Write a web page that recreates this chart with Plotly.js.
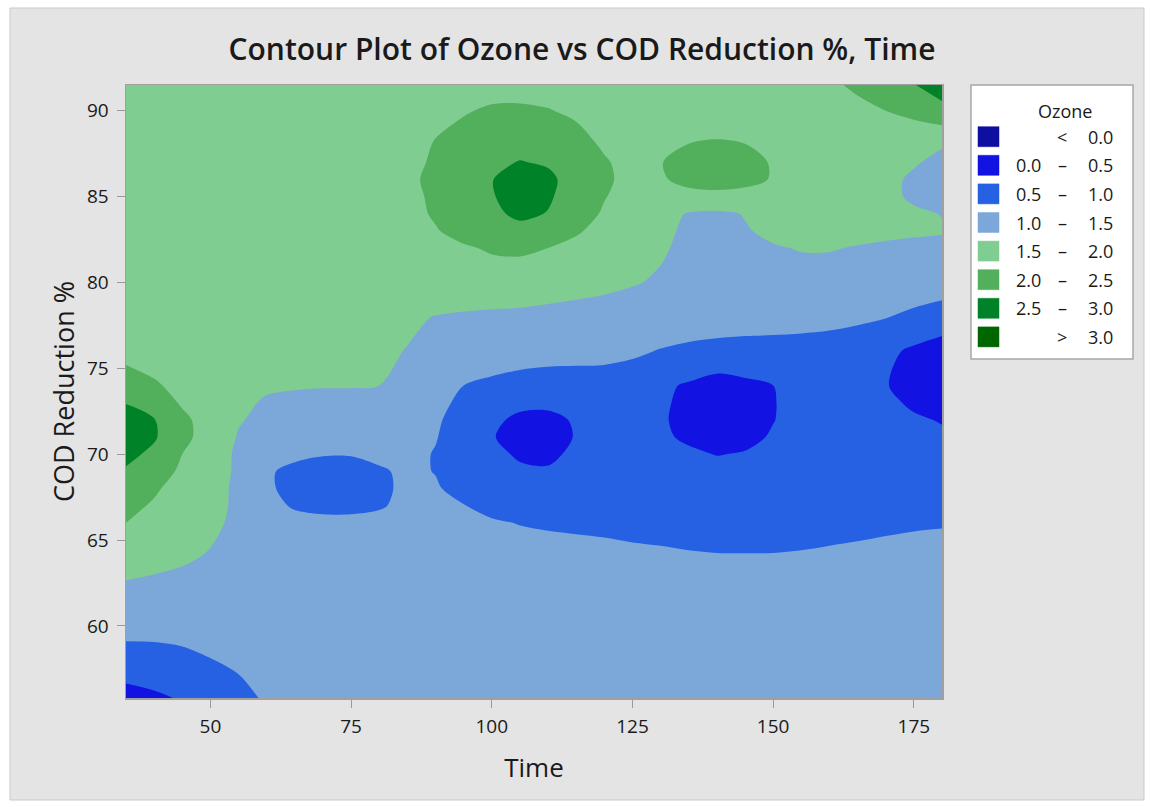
<!DOCTYPE html>
<html>
<head>
<meta charset="utf-8">
<script src="https://cdn.plot.ly/plotly-3.0.1.min.js"></script>
<style>
  html, body { margin: 0; padding: 0; background: #ffffff; }
  #chart { width: 1150px; height: 807px; }
</style>
</head>
<body>
<div id="chart"></div>
<script>
// ---------------- DATA ----------------
const timeValues = [35,40,45,50,55,60,65,70,75,80,85,90,95,100,105,110,115,120,125,130,135,140,145,150,155,160,165,170,175,180];
const codValues = [55.8,58,60,62,64,66,67,68,69,70,71,72,73,74,76,78,80,82,83,84,85,86,87,88,90,91.5];

// Ozone estimated on the grid, one array per COD Reduction % row (bottom to top)
const ozoneCOD55_8 = [0.25,0.4,0.55,0.72,0.88,1.05,1.15,1.2,1.23,1.25,1.26,1.27,1.27,1.27,1.27,1.27,1.27,1.27,1.27,1.27,1.27,1.27,1.27,1.27,1.27,1.27,1.27,1.27,1.27,1.27];
const ozoneCOD58 = [0.9,0.91,0.94,0.99,1.07,1.15,1.2,1.23,1.25,1.26,1.27,1.27,1.27,1.27,1.26,1.26,1.26,1.26,1.25,1.25,1.25,1.25,1.25,1.25,1.25,1.25,1.26,1.26,1.26,1.27];
const ozoneCOD60 = [1.08,1.08,1.09,1.13,1.18,1.22,1.24,1.25,1.25,1.25,1.25,1.24,1.24,1.23,1.23,1.22,1.22,1.21,1.21,1.2,1.2,1.2,1.2,1.2,1.2,1.21,1.21,1.22,1.22,1.23];
const ozoneCOD62 = [1.43,1.4,1.36,1.32,1.28,1.26,1.25,1.25,1.25,1.24,1.24,1.23,1.22,1.21,1.2,1.19,1.18,1.17,1.16,1.15,1.14,1.13,1.13,1.13,1.14,1.15,1.16,1.17,1.18,1.19];
const ozoneCOD64 = [1.65,1.6,1.55,1.47,1.38,1.3,1.25,1.23,1.22,1.2,1.2,1.18,1.16,1.14,1.12,1.1,1.09,1.08,1.06,1.05,1.03,1.02,1.02,1.02,1.03,1.05,1.06,1.08,1.09,1.1];
const ozoneCOD66 = [2.0,1.88,1.72,1.58,1.42,1.25,1.15,1.1,1.1,1.12,1.14,1.12,1.07,1.03,0.99,0.97,0.955,0.94,0.92,0.9,0.88,0.86,0.85,0.86,0.88,0.9,0.93,0.95,0.97,0.98];
const ozoneCOD67 = [2.1,1.96,1.8,1.62,1.43,1.15,0.95,0.9,0.9,0.96,1.1,1.08,1.01,0.92,0.85,0.83,0.83,0.84,0.83,0.82,0.8,0.79,0.79,0.8,0.81,0.83,0.85,0.86,0.87,0.88];
const ozoneCOD68 = [2.2,2.05,1.85,1.65,1.42,1.05,0.9,0.82,0.82,0.92,1.08,1.03,0.9,0.8,0.72,0.7,0.72,0.75,0.76,0.75,0.74,0.74,0.74,0.75,0.76,0.77,0.78,0.78,0.78,0.78];
const ozoneCOD69 = [2.45,2.2,1.93,1.7,1.43,1.04,0.92,0.86,0.86,0.96,1.06,0.99,0.83,0.68,0.56,0.54,0.64,0.72,0.73,0.68,0.63,0.6,0.62,0.66,0.7,0.73,0.74,0.73,0.71,0.7];
const ozoneCOD70 = [2.62,2.4,2.0,1.75,1.42,1.2,1.07,1.02,1.02,1.08,1.1,0.98,0.8,0.6,0.45,0.42,0.58,0.7,0.7,0.62,0.55,0.49,0.52,0.58,0.66,0.7,0.7,0.68,0.64,0.62];
const ozoneCOD71 = [2.78,2.55,2.12,1.8,1.47,1.3,1.18,1.13,1.13,1.15,1.12,1.02,0.8,0.52,0.38,0.36,0.52,0.68,0.66,0.55,0.45,0.4,0.42,0.53,0.64,0.69,0.68,0.64,0.59,0.55];
const ozoneCOD72 = [2.72,2.52,2.1,1.8,1.53,1.4,1.32,1.28,1.27,1.25,1.18,1.05,0.85,0.6,0.4,0.38,0.55,0.68,0.62,0.54,0.4,0.32,0.35,0.49,0.62,0.68,0.65,0.6,0.54,0.48];
const ozoneCOD73 = [2.48,2.25,1.95,1.78,1.58,1.46,1.42,1.4,1.39,1.38,1.28,1.1,0.92,0.75,0.62,0.6,0.7,0.76,0.72,0.55,0.42,0.3,0.36,0.48,0.65,0.7,0.65,0.57,0.45,0.36];
const ozoneCOD74 = [2.3,2.05,1.88,1.75,1.62,1.55,1.53,1.52,1.52,1.5,1.35,1.15,1.0,0.92,0.85,0.82,0.84,0.85,0.8,0.58,0.45,0.3,0.4,0.5,0.68,0.7,0.62,0.52,0.35,0.25];
const ozoneCOD76 = [1.8,1.8,1.75,1.68,1.65,1.63,1.6,1.58,1.56,1.55,1.49,1.4,1.3,1.22,1.18,1.15,1.12,1.1,1.06,0.98,0.92,0.88,0.86,0.85,0.84,0.82,0.75,0.6,0.42,0.3];
const ozoneCOD78 = [1.75,1.72,1.7,1.67,1.65,1.63,1.62,1.62,1.6,1.58,1.55,1.49,1.45,1.42,1.4,1.38,1.35,1.32,1.28,1.25,1.22,1.2,1.18,1.17,1.15,1.12,1.08,1.02,0.9,0.75];
const ozoneCOD80 = [1.75,1.72,1.7,1.67,1.65,1.65,1.65,1.65,1.65,1.68,1.72,1.75,1.78,1.78,1.78,1.7,1.65,1.6,1.53,1.45,1.35,1.3,1.3,1.32,1.35,1.35,1.32,1.3,1.28,1.27];
const ozoneCOD82 = [1.75,1.72,1.7,1.68,1.68,1.68,1.68,1.68,1.7,1.75,1.82,1.9,1.95,2.05,2.07,2.0,1.88,1.75,1.65,1.55,1.4,1.35,1.4,1.47,1.52,1.52,1.48,1.45,1.42,1.4];
const ozoneCOD83 = [1.75,1.75,1.72,1.7,1.7,1.7,1.7,1.7,1.72,1.78,1.85,1.97,2.15,2.3,2.35,2.25,2.05,1.85,1.72,1.6,1.42,1.38,1.47,1.58,1.62,1.62,1.6,1.57,1.55,1.53];
const ozoneCOD84 = [1.75,1.75,1.75,1.72,1.72,1.72,1.72,1.72,1.75,1.8,1.86,2.05,2.3,2.4,2.6,2.48,2.2,1.95,1.8,1.65,1.47,1.42,1.52,1.65,1.7,1.7,1.65,1.6,1.55,1.49];
const ozoneCOD85 = [1.75,1.75,1.75,1.74,1.74,1.74,1.74,1.74,1.77,1.81,1.88,2.08,2.33,2.46,2.75,2.56,2.27,2.02,1.83,1.82,1.86,1.9,1.86,1.82,1.76,1.72,1.65,1.58,1.45,1.38];
const ozoneCOD86 = [1.75,1.75,1.75,1.75,1.75,1.75,1.75,1.75,1.78,1.82,1.9,2.12,2.35,2.48,2.8,2.6,2.3,2.08,1.85,1.95,2.13,2.16,2.12,1.97,1.8,1.72,1.65,1.58,1.45,1.35];
const ozoneCOD87 = [1.75,1.75,1.75,1.75,1.75,1.75,1.75,1.75,1.78,1.82,1.88,2.06,2.25,2.4,2.52,2.45,2.22,2.04,1.86,1.99,2.1,2.12,2.08,1.98,1.82,1.75,1.68,1.62,1.53,1.42];
const ozoneCOD88 = [1.75,1.75,1.75,1.75,1.75,1.75,1.75,1.75,1.78,1.82,1.88,2.02,2.15,2.3,2.35,2.3,2.15,1.95,1.85,1.9,2.01,2.04,2.01,1.88,1.82,1.78,1.72,1.65,1.57,1.52];
const ozoneCOD90 = [1.75,1.75,1.75,1.75,1.75,1.75,1.75,1.75,1.78,1.82,1.86,1.92,1.97,2.05,2.06,2.02,1.93,1.86,1.82,1.8,1.8,1.8,1.8,1.8,1.82,1.85,1.9,2.0,2.15,2.35];
const ozoneCOD91_5 = [1.75,1.75,1.75,1.75,1.75,1.75,1.75,1.75,1.75,1.78,1.8,1.82,1.84,1.85,1.85,1.83,1.8,1.78,1.77,1.77,1.77,1.78,1.8,1.83,1.87,1.93,2.07,2.25,2.48,2.75];

const xTickValues = [50,75,100,125,150,175];
const yTickValues = [60,65,70,75,80,85,90];

const contourStart = 0.0, contourEnd = 3.0, contourStep = 0.5;

const legendLow  = ['', '0.0', '0.5', '1.0', '1.5', '2.0', '2.5', ''];
const legendSym  = ['<', '\u2013', '\u2013', '\u2013', '\u2013', '\u2013', '\u2013', '>'];
const legendHigh = ['0.0', '0.5', '1.0', '1.5', '2.0', '2.5', '3.0', '3.0'];

// ---------------- STYLE ----------------
const bandColors = ['#0E0EA0', '#1212E2', '#2561E2', '#7CA7D9', '#80CD91', '#52B05C', '#008228', '#006600'];
const FONT = 'Open Sans, Noto Sans, DejaVu Sans, sans-serif';
const TXT = '#1a1a1a';

const z = [ozoneCOD55_8, ozoneCOD58, ozoneCOD60, ozoneCOD62, ozoneCOD64, ozoneCOD66, ozoneCOD67, ozoneCOD68,
           ozoneCOD69, ozoneCOD70, ozoneCOD71, ozoneCOD72, ozoneCOD73, ozoneCOD74, ozoneCOD76, ozoneCOD78,
           ozoneCOD80, ozoneCOD82, ozoneCOD83, ozoneCOD84, ozoneCOD85, ozoneCOD86, ozoneCOD87, ozoneCOD88,
           ozoneCOD90, ozoneCOD91_5];

const colorscale = bandColors.map((c, i) => [i / (bandColors.length - 1), c]);

const trace = {
  type: 'contour',
  x: timeValues,
  y: codValues,
  z: z,
  autocontour: false,
  contours: { start: contourStart, end: contourEnd, size: contourStep, coloring: 'fill', showlines: false },
  line: { width: 0, smoothing: 0.9 },
  colorscale: colorscale,
  showscale: false,
  hoverinfo: 'skip'
};

// plot area geometry (pixels)
const W = 1150, H = 807;
const mL = 126, mR = 208, mT = 85, mB = 109;
const pw = W - mL - mR, ph = H - mT - mB;
const PX = px => (px - mL) / pw;
const PY = py => (H - mB - py) / ph;

const shapes = [];
const annotations = [];

// grey frame background
shapes.push({ type: 'rect', xref: 'paper', yref: 'paper', layer: 'below',
  x0: PX(10), x1: PX(1144), y0: PY(800), y1: PY(8),
  fillcolor: '#e4e4e4', line: { color: '#c9c9c9', width: 1 } });

// legend box
shapes.push({ type: 'rect', xref: 'paper', yref: 'paper', layer: 'above',
  x0: PX(971), x1: PX(1133), y0: PY(359), y1: PY(85),
  fillcolor: '#ffffff', line: { color: '#a6a6a6', width: 1.5 } });

annotations.push({ xref: 'paper', yref: 'paper', x: PX(1065), y: PY(111), xanchor: 'center', yanchor: 'middle',
  text: 'Ozone', showarrow: false, font: { family: FONT, size: 18, color: TXT } });

const rowTop = 136.7, rowStep = 28.6;
for (let i = 0; i < bandColors.length; i++) {
  const cy = rowTop + i * rowStep;
  shapes.push({ type: 'rect', xref: 'paper', yref: 'paper', layer: 'above',
    x0: PX(978), x1: PX(999), y0: PY(cy + 10), y1: PY(cy - 10),
    fillcolor: bandColors[i], line: { color: bandColors[i], width: 0.5 } });
  if (legendLow[i]) {
    annotations.push({ xref: 'paper', yref: 'paper', x: PX(1043), y: PY(cy), xanchor: 'right', yanchor: 'middle',
      text: legendLow[i], showarrow: false, font: { family: FONT, size: 18, color: TXT } });
  }
  annotations.push({ xref: 'paper', yref: 'paper', x: PX(1062), y: PY(cy), xanchor: 'center', yanchor: 'middle',
    text: legendSym[i], showarrow: false, font: { family: FONT, size: 18, color: TXT } });
  annotations.push({ xref: 'paper', yref: 'paper', x: PX(1115), y: PY(cy), xanchor: 'right', yanchor: 'middle',
    text: legendHigh[i], showarrow: false, font: { family: FONT, size: 18, color: TXT } });
}

const layout = {
  width: W, height: H,
  margin: { l: mL, r: mR, t: mT, b: mB, pad: 0 },
  paper_bgcolor: '#ffffff',
  plot_bgcolor: '#ffffff',
  font: { family: FONT, color: TXT },
  title: { text: 'Contour Plot of Ozone vs COD Reduction %, Time',
    font: { family: FONT, size: 30, weight: 600, color: TXT },
    xref: 'container', yref: 'container', x: 582 / W, y: 1 - 49 / H, xanchor: 'center', yanchor: 'middle' },
  xaxis: {
    range: [35, 180], tickvals: xTickValues, ticks: 'outside', ticklen: 8, tickwidth: 1, tickcolor: '#9a9a9a',
    showline: true, mirror: true, linecolor: '#a0a0a0', linewidth: 1.5, showgrid: false, zeroline: false,
    tickfont: { family: FONT, size: 19, color: TXT }, automargin: false, ticklabelstandoff: 3,
    title: { text: 'Time', font: { family: FONT, size: 26, color: TXT }, standoff: 20 }
  },
  yaxis: {
    range: [55.8, 91.5], tickvals: yTickValues, ticks: 'outside', ticklen: 8, tickwidth: 1, tickcolor: '#9a9a9a',
    showline: true, mirror: true, linecolor: '#a0a0a0', linewidth: 1.5, showgrid: false, zeroline: false,
    tickfont: { family: FONT, size: 19, color: TXT }, automargin: false, ticklabelstandoff: 4,
    title: { text: 'COD Reduction %', font: { family: FONT, size: 27, color: TXT }, standoff: 4 }
  },
  shapes: shapes,
  annotations: annotations,
  showlegend: false
};

Plotly.newPlot('chart', [trace], layout, { displayModeBar: false, staticPlot: true });
</script>
</body>
</html>
